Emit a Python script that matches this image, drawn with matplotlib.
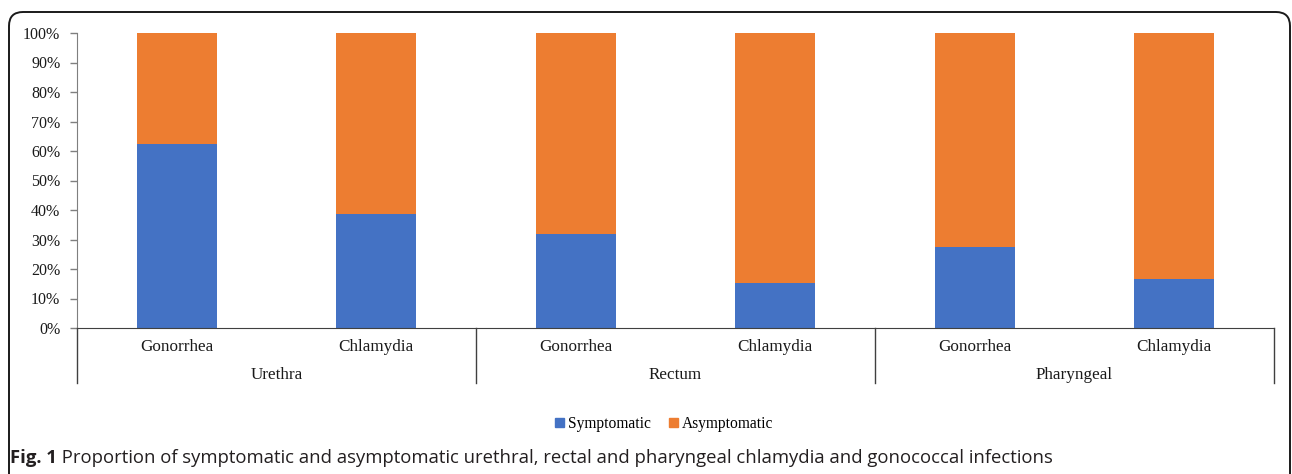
import matplotlib.pyplot as plt
from matplotlib.patches import Patch, FancyBboxPatch
from matplotlib.lines import Line2D
from matplotlib.ticker import PercentFormatter

# data (percent of infections)
sites = ['Urethra', 'Rectum', 'Pharyngeal']
infections = ['Gonorrhea', 'Chlamydia']
symptomatic = [62.5, 38.5, 32.0, 15.2, 27.6, 16.5]
asymptomatic = [100 - v for v in symptomatic]

blue = '#4472C4'
orange = '#ED7D31'

fig = plt.figure(figsize=(12.92, 4.74), dpi=100)
ax = fig.add_axes([77 / 1292, 1 - 328 / 474, (1274 - 77) / 1292, (328 - 33) / 474])

x = list(range(len(symptomatic)))
ax.bar(x, symptomatic, width=0.4, color=blue, label='Symptomatic')
ax.bar(x, asymptomatic, width=0.4, bottom=symptomatic, color=orange,
       label='Asymptomatic')

ax.set_xlim(-0.5, len(x) - 0.5)
ax.set_ylim(0, 100)
ax.set_yticks(range(0, 101, 10))
ax.yaxis.set_major_formatter(PercentFormatter(decimals=0))
ax.set_xticks([])

serif = 'Liberation Serif'
for lab in ax.get_yticklabels():
    lab.set_fontfamily(serif)
    lab.set_fontsize(11.5)
ax.tick_params(axis='y', length=5, width=1, color='#7f7f7f', pad=7,
               labelcolor='#1a1a1a')

for s in ['top', 'right']:
    ax.spines[s].set_visible(False)
ax.spines['left'].set_color('#7f7f7f')
ax.spines['bottom'].set_color('#404040')

# category and group labels under the axis
trans = ax.get_xaxis_transform()
for i, xi in enumerate(x):
    ax.text(xi, -0.065, infections[i % 2], transform=trans, ha='center',
            va='center', fontsize=12.3, family=serif, color='#1a1a1a')
for g, site in enumerate(sites):
    ax.text(2 * g + 0.5, -0.16, site, transform=trans, ha='center',
            va='center', fontsize=12.3, family=serif, color='#1a1a1a')
for sep in [-0.5, 1.5, 3.5, 5.5]:
    ax.add_line(Line2D([sep, sep], [0, -0.187], transform=trans,
                       color='#404040', lw=1, clip_on=False))

handles = [Patch(color=blue, label='Symptomatic'),
           Patch(color=orange, label='Asymptomatic')]
fig.legend(handles=handles, loc='center', ncol=2,
           bbox_to_anchor=(664 / 1292, 1 - 424 / 474), frameon=False,
           handlelength=0.6, handleheight=0.6, handletextpad=0.2,
           columnspacing=1.2, prop={'family': serif, 'size': 11.2})

# rounded frame around the figure panel
frame = FancyBboxPatch((9, -40), 1281, 502, boxstyle='round,pad=0,rounding_size=14',
                       transform=None, fill=False, edgecolor='#1a1a1a', lw=1.4)
fig.patches.append(frame)

t1 = fig.text(10 / 1292, 1 - 458 / 474, 'Fig. 1', fontsize=13.3, fontweight='bold',
              family='Open Sans', va='center', color='#231f20')
ax.annotate(' Proportion of symptomatic and asymptomatic urethral, rectal and '
            'pharyngeal chlamydia and gonococcal infections',
            xy=(1, 0.5), xycoords=t1, va='center', ha='left', fontsize=13.3,
            family='Open Sans', color='#231f20', annotation_clip=False)

fig.savefig('out.png', dpi=100)
